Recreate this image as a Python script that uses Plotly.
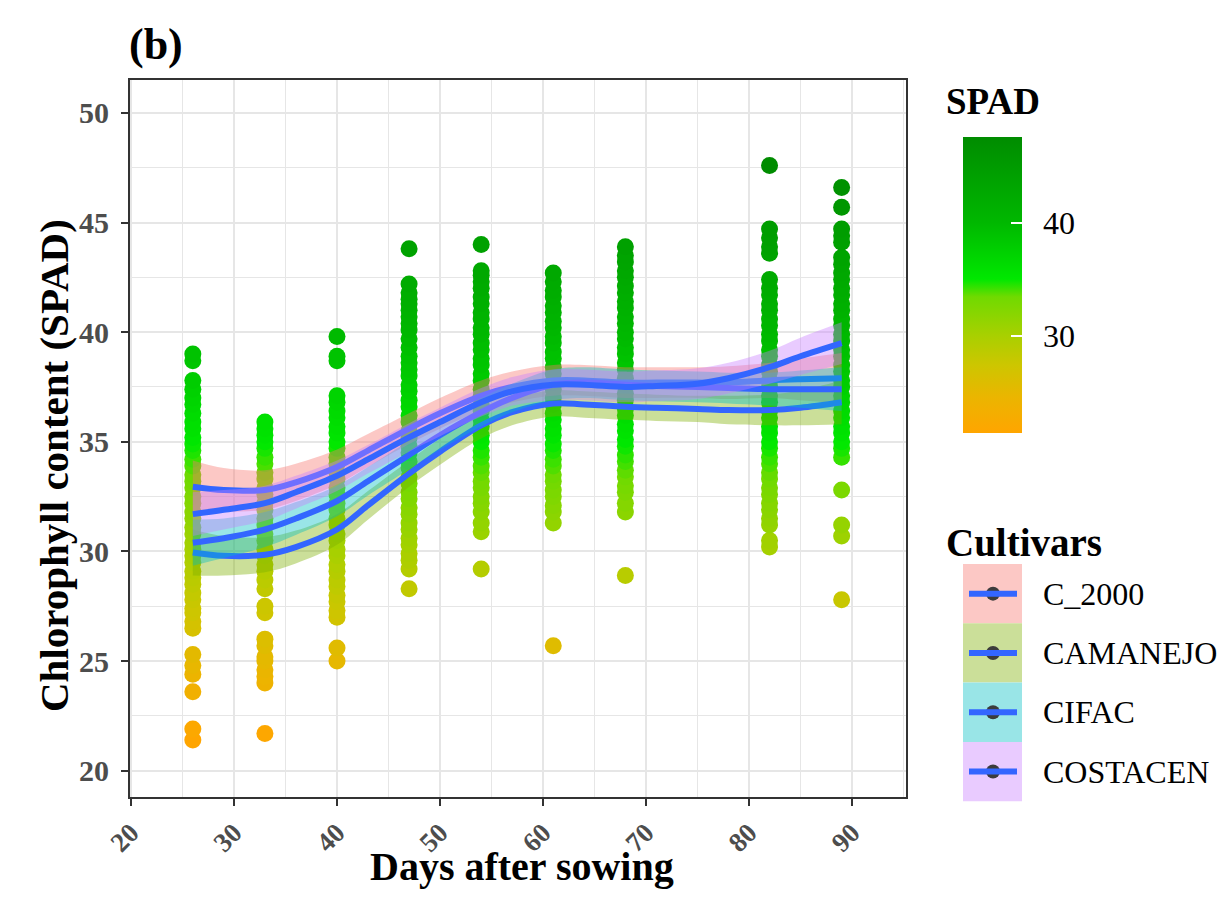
import plotly.graph_objects as go

# ---- SPAD readings per sampling date (days after sowing) ----
days = [26, 33, 40, 47, 54, 61, 68, 82, 89]

spad_d26 = [21.4, 21.9, 23.6, 24.4, 24.8, 25.3, 26.5, 26.8, 27.2, 27.4, 27.8, 28.1, 28.5, 28.8,
            29.1, 29.5, 29.8, 30.1, 30.4, 30.8, 31.1, 31.5, 31.8, 32.2, 32.5, 32.9, 33.2, 33.5,
            33.9, 34.2, 34.6, 34.9, 35.2, 35.6, 35.9, 36.3, 36.7, 37.0, 37.4, 37.8, 38.7, 39.0]
spad_d33 = [21.7, 24.0, 24.3, 24.6, 25.0, 25.2, 25.7, 26.0, 27.2, 27.5, 28.3, 28.7, 29.1, 29.4,
            29.8, 30.1, 30.5, 30.8, 31.2, 31.5, 31.9, 32.2, 32.6, 32.9, 33.3, 33.6, 34.0, 34.3,
            34.7, 35.0, 35.3, 35.6, 35.9]
spad_d40 = [25.0, 25.6, 27.0, 27.3, 27.7, 28.0, 28.4, 28.7, 29.1, 29.4, 29.8, 30.1, 30.5, 30.8,
            31.2, 31.5, 31.9, 32.2, 32.6, 32.9, 33.3, 33.6, 34.0, 34.3, 34.7, 35.0, 35.4, 35.7,
            36.1, 36.4, 36.8, 37.1, 38.7, 38.9, 39.8]
spad_d47 = [28.3, 29.2, 29.6, 29.9, 30.3, 30.6, 31.0, 31.3, 31.7, 32.0, 32.4, 32.7, 33.1, 33.4,
            33.8, 34.1, 34.5, 34.8, 35.2, 35.5, 35.9, 36.2, 36.6, 36.9, 37.3, 37.6, 38.0, 38.3,
            38.6, 38.9, 39.3, 39.7, 40.1, 40.4, 40.7, 41.0, 41.3, 41.5, 41.8, 42.2, 43.8]
spad_d54 = [29.2, 30.9, 31.3, 31.8, 32.2, 32.5, 32.9, 33.2, 33.6, 33.9, 34.3, 34.6, 35.0, 35.3,
            35.7, 36.0, 36.4, 36.7, 37.1, 37.4, 37.8, 38.1, 38.5, 38.8, 39.2, 39.5, 39.9, 40.2,
            40.6, 40.9, 41.3, 41.6, 42.0, 42.3, 42.6, 42.8, 44.0]
spad_d61 = [25.7, 31.3, 31.8, 32.1, 32.5, 32.8, 33.2, 33.5, 33.9, 34.2, 34.6, 34.9, 35.3, 35.6,
            36.0, 36.3, 36.7, 37.0, 37.4, 37.7, 38.1, 38.4, 38.8, 39.1, 39.5, 39.8, 40.2, 40.5,
            40.9, 41.2, 41.6, 41.9, 42.3, 42.7]
spad_d68 = [28.9, 31.8, 32.2, 32.7, 33.0, 33.4, 33.7, 34.1, 34.4, 34.8, 35.1, 35.5, 35.8, 36.2,
            36.5, 36.9, 37.2, 37.6, 37.9, 38.3, 38.6, 39.0, 39.3, 39.7, 40.0, 40.4, 40.7, 41.1,
            41.4, 41.8, 42.1, 42.5, 42.8, 43.2, 43.5, 43.9]
spad_d82 = [30.2, 30.5, 31.2, 31.5, 31.9, 32.2, 32.6, 32.9, 33.3, 33.6, 34.0, 34.3, 34.7, 35.0,
            35.4, 35.7, 36.1, 36.4, 36.8, 37.1, 37.5, 37.8, 38.2, 38.5, 38.9, 39.2, 39.6, 39.9,
            40.3, 40.6, 41.0, 41.3, 41.7, 42.0, 42.4, 43.6, 43.9, 44.3, 44.7, 47.6]
spad_d89 = [27.8, 30.7, 31.2, 32.8, 34.3, 34.7, 35.0, 35.4, 35.7, 36.1, 36.4, 36.8, 37.1, 37.5,
            37.8, 38.2, 38.5, 38.9, 39.2, 39.6, 39.9, 40.3, 40.6, 41.0, 41.3, 41.7, 42.0, 42.4,
            42.7, 43.1, 43.4, 44.1, 44.4, 44.7, 45.7, 46.6]

spad_by_day = [spad_d26, spad_d33, spad_d40, spad_d47, spad_d54,
               spad_d61, spad_d68, spad_d82, spad_d89]

# ---- smoothed trends per cultivar (fit and half-width of confidence band) ----
fit_days = [26, 29, 33, 36, 40, 43, 47, 50, 54, 57, 61, 64, 68, 71, 75, 78, 82, 85, 89]

cultivars = ["C_2000", "CAMANEJO", "CIFAC", "COSTACEN"]

fit_c2000 = [32.95, 32.8, 32.8, 33.15, 33.85, 34.6, 35.6, 36.3, 37.1, 37.5, 37.8, 37.8,
             37.7, 37.7, 37.7, 37.7, 37.8, 37.85, 37.9]
fit_camanejo = [29.95, 29.8, 29.85, 30.2, 31.0, 32.1, 33.55, 34.55, 35.75, 36.35, 36.75, 36.7,
                36.6, 36.55, 36.5, 36.45, 36.45, 36.55, 36.8]
fit_cifac = [30.4, 30.6, 31.0, 31.5, 32.3, 33.2, 34.4, 35.3, 36.35, 37.0, 37.6, 37.7,
             37.6, 37.55, 37.5, 37.45, 37.4, 37.4, 37.4]
fit_costacen = [31.7, 31.9, 32.2, 32.7, 33.45, 34.2, 35.2, 35.9, 36.8, 37.3, 37.6, 37.6,
                37.5, 37.55, 37.65, 37.9, 38.4, 38.9, 39.5]

band_c2000 = [1.2, 1.0, 0.9, 0.85, 0.8, 0.75, 0.7, 0.7, 0.7, 0.7, 0.7, 0.7,
              0.7, 0.7, 0.7, 0.75, 0.8, 0.95, 1.15]
band_camanejo = [1.05, 0.9, 0.8, 0.75, 0.7, 0.65, 0.6, 0.6, 0.6, 0.6, 0.6, 0.6,
                 0.6, 0.6, 0.6, 0.65, 0.7, 0.8, 1.0]
band_cifac = [1.05, 0.9, 0.8, 0.75, 0.7, 0.65, 0.65, 0.65, 0.65, 0.65, 0.7, 0.7,
              0.7, 0.7, 0.7, 0.7, 0.75, 0.85, 1.0]
band_costacen = [1.0, 0.9, 0.8, 0.75, 0.7, 0.65, 0.65, 0.65, 0.65, 0.65, 0.7, 0.7,
                 0.7, 0.7, 0.7, 0.7, 0.75, 0.85, 0.95]

fits = [fit_c2000, fit_camanejo, fit_cifac, fit_costacen]
bands = [band_c2000, band_camanejo, band_cifac, band_costacen]
band_rgb = [(248, 118, 109), (124, 174, 0), (0, 191, 196), (199, 124, 255)]
band_alpha = 0.4
line_color = "#3366FF"

# colour scale of the SPAD reading
spad_scale = [[0.0, "#FFA500"], [0.12, "#EBB500"], [0.23, "#CDC600"], [0.33, "#A8D000"],
              [0.46, "#70DA00"], [0.52, "#00E800"], [0.71, "#00B800"], [1.0, "#008C00"]]
cbar_ticks = [30, 40]

FONT = "Liberation Serif"
W, H = 1220, 911
ML, MR, MT, MB = 130, 314, 80, 114
PW, PH = W - ML - MR, H - MT - MB


def px_x(px):
    return (px - ML) / PW


def px_y(py):
    return (H - MB - py) / PH


def rgba(rgb, a):
    return "rgba(%d,%d,%d,%.2f)" % (rgb[0], rgb[1], rgb[2], a)


def on_white(rgb, a):
    return "rgb(%d,%d,%d)" % tuple(round(255 * (1 - a) + c * a) for c in rgb)


x_pts, y_pts = [], []
for d, vals in zip(days, spad_by_day):
    x_pts += [d] * len(vals)
    y_pts += vals
cmin, cmax = min(y_pts), max(y_pts)

fig = go.Figure()

fig.add_trace(go.Scatter(
    x=x_pts, y=y_pts, mode="markers", showlegend=False, hoverinfo="x+y",
    marker=dict(size=17, color=y_pts, colorscale=spad_scale, cmin=cmin, cmax=cmax,
                line=dict(width=0),
                colorbar=dict(x=px_x(963), xanchor="left", y=px_y(285), yanchor="middle",
                              len=296, lenmode="pixels", thickness=59, thicknessmode="pixels",
                              outlinewidth=0, xpad=0, ypad=0, tickvals=cbar_ticks,
                              ticks="inside", ticklen=11, tickwidth=1.5, tickcolor="white",
                              showticklabels=False)),
))

# ribbon then line for each cultivar
for name, fit, band, rgb in zip(cultivars, fits, bands, band_rgb):
    lo = [f - b for f, b in zip(fit, band)]
    hi = [f + b for f, b in zip(fit, band)]
    fig.add_trace(go.Scatter(x=fit_days, y=lo, mode="lines", line=dict(width=0, shape="spline"),
                             showlegend=False, hoverinfo="skip"))
    fig.add_trace(go.Scatter(x=fit_days, y=hi, mode="lines", line=dict(width=0, shape="spline"),
                             fill="tonexty", fillcolor=rgba(rgb, band_alpha),
                             showlegend=False, hoverinfo="skip"))
    fig.add_trace(go.Scatter(x=fit_days, y=fit, mode="lines", name=name,
                             line=dict(color=line_color, width=6, shape="spline"),
                             showlegend=False))

grid = "#E6E6E6"
axis_common = dict(showline=True, mirror=True, linecolor="#333333", linewidth=2,
                   ticks="outside", ticklen=7, tickwidth=2, tickcolor="#333333",
                   zeroline=False, showgrid=True, gridcolor=grid, gridwidth=2)

fig.update_xaxes(range=[19.9, 95.25], tickmode="linear", tick0=0, dtick=10, tickangle=-45,
                 tickfont=dict(family=FONT, size=27, color="#4D4D4D", weight="bold"),
                 minor=dict(tick0=0, dtick=5, showgrid=True, gridcolor=grid, gridwidth=1.3),
                 **axis_common)
fig.update_yaxes(range=[18.8, 51.5], tickmode="linear", tick0=0, dtick=5,
                 ticklabelstandoff=6,
                 tickfont=dict(family=FONT, size=30, color="#4D4D4D", weight="bold"),
                 minor=dict(tick0=0, dtick=2.5, showgrid=True, gridcolor=grid, gridwidth=1.3),
                 **axis_common)

annotations = [
    dict(text="<b>(b)</b>", x=px_x(127), y=px_y(44), xanchor="left", yanchor="middle",
         font=dict(family=FONT, size=44, color="black")),
    dict(text="<b>Days after sowing</b>", x=px_x(522), y=px_y(866), xanchor="center",
         yanchor="middle", font=dict(family=FONT, size=40, color="black")),
    dict(text="<b>Chlorophyll content (SPAD)</b>", x=px_x(54), y=px_y(466), textangle=-90,
         xanchor="center", yanchor="middle", font=dict(family=FONT, size=41, color="black")),
    dict(text="<b>SPAD</b>", x=px_x(944), y=px_y(102), xanchor="left", yanchor="middle",
         font=dict(family=FONT, size=37, color="black")),
    dict(text="<b>Cultivars</b>", x=px_x(944), y=px_y(542), xanchor="left", yanchor="middle",
         font=dict(family=FONT, size=39, color="black")),
]

shapes = []
bar_top, bar_bot = 137, 433
for t in cbar_ticks:
    ty = bar_bot - (t - cmin) / (cmax - cmin) * (bar_bot - bar_top)
    annotations.append(dict(text=str(t), x=px_x(1041), y=px_y(ty), xanchor="left",
                            yanchor="middle", font=dict(family=FONT, size=32, color="black")))
    shapes.append(dict(type="line", xref="paper", yref="paper", x0=px_x(963), x1=px_x(975),
                       y0=px_y(ty), y1=px_y(ty), line=dict(color="white", width=1.5)))

# legend keys for the cultivars
key_top, key_h = 564, 59.3
for i, (name, rgb) in enumerate(zip(cultivars, band_rgb)):
    y0 = key_top + i * key_h
    yc = y0 + key_h / 2
    shapes.append(dict(type="rect", xref="paper", yref="paper", x0=px_x(963), x1=px_x(1022),
                       y0=px_y(y0 + key_h), y1=px_y(y0), line=dict(width=0),
                       fillcolor=on_white(rgb, band_alpha), layer="above"))
    shapes.append(dict(type="circle", xref="paper", yref="paper", xsizemode="pixel",
                       ysizemode="pixel", xanchor=px_x(993), yanchor=px_y(yc),
                       x0=-7, x1=7, y0=-7, y1=7, fillcolor="#3C3C3C",
                       line=dict(width=0), layer="above"))
    shapes.append(dict(type="line", xref="paper", yref="paper", x0=px_x(969), x1=px_x(1017),
                       y0=px_y(yc), y1=px_y(yc), line=dict(color=line_color, width=6),
                       layer="above"))
    annotations.append(dict(text=name, x=px_x(1041), y=px_y(yc), xanchor="left",
                            yanchor="middle", font=dict(family=FONT, size=32, color="black")))

fig.update_layout(
    width=W, height=H, margin=dict(l=ML, r=MR, t=MT, b=MB, autoexpand=False),
    paper_bgcolor="white", plot_bgcolor="white", showlegend=False,
    annotations=[dict(a, xref="paper", yref="paper", showarrow=False) for a in annotations],
    shapes=shapes,
)

fig.write_html("out.html")
